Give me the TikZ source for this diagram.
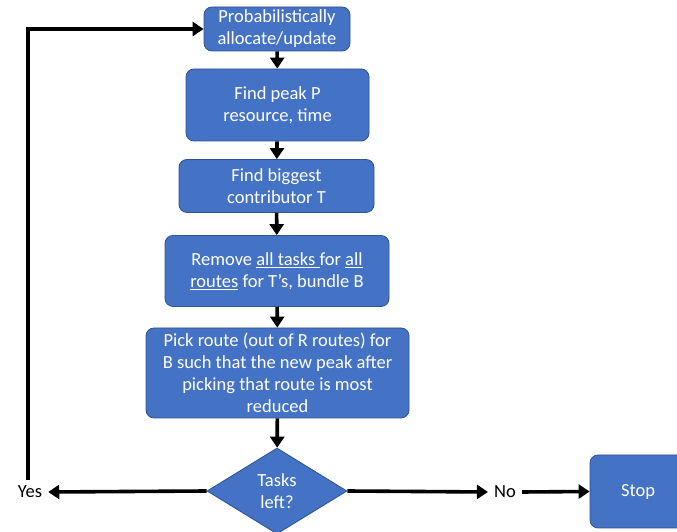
\documentclass[tikz,border=0pt]{standalone}
\usepackage{fontspec}
\setmainfont{Carlito}
\usetikzlibrary{arrows.meta,shapes.geometric}

\definecolor{boxblue}{RGB}{68,114,196}
\definecolor{boxedge}{RGB}{47,82,143}

\begin{document}
\begin{tikzpicture}[x=1pt,y=1pt,
    stepbox/.style={rectangle, rounded corners=8pt, fill=boxblue, draw=boxedge,
        line width=0.8pt, text=white, align=center, inner sep=0pt,
        font=\fontsize{18.5}{22}\selectfont},
    choice/.style={diamond, fill=boxblue, draw=boxedge, line width=0.8pt,
        text=white, align=center, inner sep=0pt, minimum width=140, minimum height=86,
        font=\fontsize{18.5}{22}\selectfont},
    answer/.style={inner sep=6pt, font=\fontsize{18.5}{22}\selectfont},
    flow/.style={line width=3.6pt, -{Triangle[length=11pt,width=14pt]}}]
    % Fix the frame
    \useasboundingbox (0,0) rectangle (677,532);

    % Process boxes down the middle
    \node[stepbox, minimum width=146, minimum height=44] (alloc) at (277,503)
        {Probabilistically\\allocate/update};
    \node[stepbox, minimum width=183, minimum height=72] (peak) at (277.5,427)
        {Find peak P\\resource, time};
    \node[stepbox, minimum width=195, minimum height=53] (contrib) at (276.5,346)
        {Find biggest\\contributor T};
    \node[stepbox, minimum width=224, minimum height=71] (remove) at (277,261)
        {Remove \underline{all tasks }for \underline{all}\\\underline{routes} for T’s, bundle B};
    \node[stepbox, minimum width=263, minimum height=90] (pick) at (277.5,159)
        {Pick route (out of R routes) for\\B such that the new peak after\\picking that route is most\\reduced};

    % Decision and the two ways out
    \node[choice] (left) at (277,41) {Tasks\\left?};
    \node[answer] (yes) at (30,40) {Yes};
    \node[answer] (no) at (505,40) {No};
    \node[stepbox, minimum width=96, minimum height=73] (stop) at (638,40.5) {Stop};

    % Arrows between the boxes
    \draw[flow] (alloc) -- (peak);
    \draw[flow] (peak) -- (contrib);
    \draw[flow] (contrib) -- (remove);
    \draw[flow] (remove) -- (pick);
    \draw[flow] (pick) -- (left);

    % Arrows out of the decision
    \draw[flow] (left.west) -- (yes.east);
    \draw[flow] (left.east) -- (no.west);
    \draw[flow] (no.east) -- (stop.west);

    % Loop back to the top
    \draw[flow] ([xshift=-2pt]yes.north) |- (alloc.west);
\end{tikzpicture}
\end{document}
